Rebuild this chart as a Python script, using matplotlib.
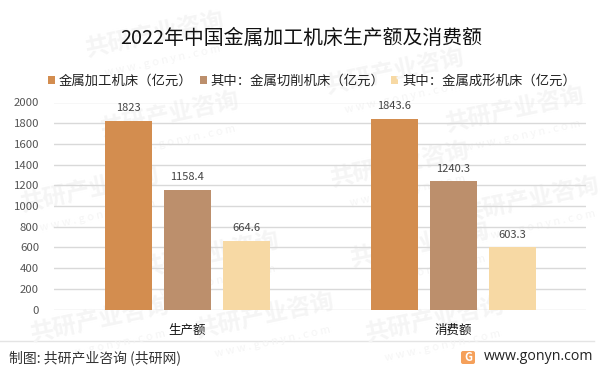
import matplotlib
matplotlib.use("Agg")
import matplotlib.pyplot as plt
from matplotlib.patches import Rectangle, FancyBboxPatch
import numpy as np

plt.rcParams['font.family'] = ['Noto Sans CJK SC', 'DejaVu Sans']

W, H = 602, 376
title = "2022年中国金属加工机床生产额及消费额"
categories = ["生产额", "消费额"]
series_names = ["金属加工机床（亿元）", "其中：金属切削机床（亿元）", "其中：金属成形机床（亿元）"]
total = [1823, 1843.6]
cutting = [1158.4, 1240.3]
forming = [664.6, 603.3]
labels_total = ["1823", "1843.6"]
labels_cutting = ["1158.4", "1240.3"]
labels_forming = ["664.6", "603.3"]
colors = ["#D38D4F", "#BC8F6C", "#F7D9A4"]
yticks = list(range(0, 2001, 200))

fig = plt.figure(figsize=(W/100, H/100), dpi=100, facecolor="white")
bg = fig.add_axes([0, 0, 1, 1], zorder=0)
bg.set_xlim(0, W); bg.set_ylim(H, 0); bg.axis("off")

# watermark
wm = "#F5F5F5"
for (x, y) in [(155, 35), (395, 72), (170, 115), (400, 165), (515, 110), (90, 190),
               (210, 255), (420, 245), (530, 200), (100, 320), (435, 320), (265, 316)]:
    bg.text(x, y, "共研产业咨询", fontsize=17, color=wm, rotation=12, ha="center", va="center", fontweight="bold")
    bg.text(x+8, y+26, "w w w . g o n y n . c o m", fontsize=8, color=wm, rotation=12, ha="center", va="center")

ax = fig.add_axes([54.3/W, 1-309.5/H, (586.3-54.3)/W, (309.5-102.5)/H], zorder=1)
ax.patch.set_alpha(0)
ax.set_xlim(-0.5, 1.5)
ax.set_ylim(0, 2000)
x = np.arange(len(categories))
step, bw = 0.2215, 0.177
for i, (vals, labs) in enumerate(zip([total, cutting, forming], [labels_total, labels_cutting, labels_forming])):
    xs = x + (i-1)*step
    ax.bar(xs, vals, bw, color=colors[i], zorder=3, label=series_names[i])
    for xx, v, l in zip(xs, vals, labs):
        ax.annotate(l, (xx, v), xytext=(0, 5.4), textcoords="offset points", ha="center", va="bottom",
                    fontsize=8, color="#444444", zorder=4)
ax.set_yticks(yticks)
ax.set_xticks(x, categories)
ax.grid(axis="y", color="#D9D9D9", lw=1, zorder=0)
ax.tick_params(axis="both", length=0)
ax.tick_params(axis="y", labelsize=8.2, labelcolor="#555555", pad=11)
ax.tick_params(axis="x", labelsize=9, labelcolor="#111111", pad=10)
for s in ax.spines.values():
    s.set_visible(False)

fig.text(301/W, 1-38/H, title, fontsize=14.3, ha="center", va="center", color="#111111")

# legend
for xp, col, name, tx in [(48, colors[0], series_names[0], 58.5), (200, colors[1], series_names[1], 210),
                          (391, colors[2], series_names[2], 402)]:
    bg.add_patch(Rectangle((xp, 76), 7, 8, facecolor=col, edgecolor="none"))
    bg.text(tx, 80.5, name, fontsize=9.6, ha="left", va="center", color="#222222")

# footer
bg.plot([0, 594], [341, 341], color="#E4E4E4", lw=1)
bg.text(9, 358, "制图: 共研产业咨询 (共研网)", fontsize=10, ha="left", va="center", color="#333333")
bg.add_patch(FancyBboxPatch((461, 351), 14, 13, boxstyle="round,pad=0,rounding_size=2", fc="#F5A05A", ec="none"))
bg.text(468, 357.5, "G", fontsize=8, color="white", ha="center", va="center", fontweight="bold")
bg.text(484, 356.5, "www.gonyn.com", fontsize=10.2, ha="left", va="center", color="#222222",
        family=["Open Sans", "DejaVu Sans"])

fig.savefig("out.png", dpi=100)
